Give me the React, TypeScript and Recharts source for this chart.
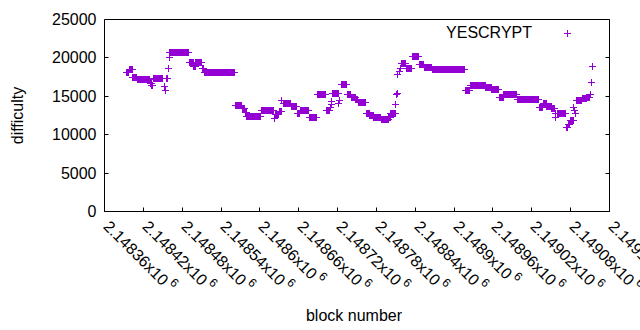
import { ScatterChart, Scatter, XAxis, YAxis, Legend, Label } from "recharts";

const FONT = '"Liberation Sans", Arial, sans-serif';
const PURPLE = '#9400d3';

// block ranges (first/last block of each run) and the difficulty of that run
const runFirst = [
  2148394, 2148399, 2148404, 2148411, 2148431, 2148433, 2148436, 2148452, 2148454, 2148456,
  2148459, 2148460, 2148461, 2148491, 2148498, 2148501, 2148511, 2148514, 2148562, 2148573,
  2148578, 2148580, 2148602, 2148623, 2148624, 2148630, 2148634, 2148636, 2148649, 2148658,
  2148662, 2148676, 2148689, 2148703, 2148709, 2148710, 2148711, 2148712, 2148722, 2148723,
  2148726, 2148735, 2148741, 2148748, 2148752, 2148765, 2148770, 2148776, 2148788, 2148799,
  2148802, 2148810, 2148811, 2148812, 2148813, 2148815, 2148817, 2148819, 2148826, 2148835,
  2148846, 2148854, 2148866, 2148918, 2148925, 2148949, 2148958, 2148970, 2148977, 2148998,
  2149032, 2149038, 2149043, 2149051, 2149056, 2149057, 2149060, 2149074, 2149077, 2149079,
  2149085, 2149086, 2149087, 2149089, 2149098, 2149105, 2149110, 2149112, 2149114,
];
const runLast = [
  2148397, 2148403, 2148410, 2148430, 2148432, 2148434, 2148449, 2148452, 2148454, 2148457,
  2148459, 2148460, 2148490, 2148497, 2148500, 2148510, 2148513, 2148561, 2148572, 2148576,
  2148579, 2148601, 2148621, 2148623, 2148628, 2148633, 2148634, 2148648, 2148657, 2148661,
  2148675, 2148688, 2148702, 2148708, 2148709, 2148710, 2148711, 2148721, 2148722, 2148723,
  2148734, 2148740, 2148747, 2148751, 2148763, 2148769, 2148775, 2148787, 2148798, 2148801,
  2148809, 2148810, 2148811, 2148812, 2148813, 2148815, 2148817, 2148825, 2148834, 2148845,
  2148853, 2148865, 2148916, 2148924, 2148948, 2148957, 2148968, 2148976, 2148997, 2149031,
  2149037, 2149042, 2149050, 2149055, 2149056, 2149057, 2149072, 2149075, 2149078, 2149084,
  2149085, 2149086, 2149087, 2149097, 2149104, 2149109, 2149111, 2149112, 2149114,
];
const runDifficulty = [
  18120, 18550, 17480, 17150, 16700, 16400, 17320, 16280, 15750, 17280,
  18580, 20090, 20660, 19440, 18900, 19360, 18680, 18160, 13760, 13400,
  12890, 12330, 13110, 12100, 12630, 12970, 14450, 14020, 13630, 12760,
  13110, 12280, 15170, 13150, 13600, 13930, 14300, 15300, 14020, 14450,
  16490, 15250, 14800, 14580, 14160, 12800, 12450, 12200, 11940, 12250,
  12780, 13930, 15230, 15400, 17840, 18200, 18620, 19270, 18580, 20220,
  19140, 18710, 18450, 15710, 16380, 16180, 15920, 14800, 15200, 14540,
  13580, 14020, 13670, 13370, 12800, 12300, 12720, 10940, 11300, 11850,
  13580, 13150, 12800, 14410, 14710, 14880, 15280, 16760, 18880,
];

const xTicks = [
  2148360, 2148420, 2148480, 2148540, 2148600, 2148660, 2148720,
  2148780, 2148840, 2148900, 2148960, 2149020, 2149080, 2149140,
];
const xTickLabels = [
  '2.14836', '2.14842', '2.14848', '2.14854', '2.1486', '2.14866', '2.14872',
  '2.14878', '2.14884', '2.1489', '2.14896', '2.14902', '2.14908', '2.14914',
];
const yTicks = [0, 5000, 10000, 15000, 20000, 25000];

// one point per block
const data: { block: number; difficulty: number }[] = [];
runFirst.forEach((first, i) => {
  for (let b = first; b <= runLast[i]; b++) data.push({ block: b, difficulty: runDifficulty[i] });
});

const snap = (v: number) => Math.round(v - 0.5) + 0.5;

function PlusMark(props: any) {
  const { cx, cy } = props;
  if (cx == null || cy == null) return null;
  const x = snap(cx);
  const y = snap(cy);
  return (
    <path
      d={`M${x - 3.5},${y}H${x + 3.5}M${x},${y - 3.5}V${y + 3.5}`}
      stroke={PURPLE}
      strokeWidth={1}
      fill="none"
    />
  );
}

function XTick(props: any) {
  const { x, y, payload } = props;
  const i = xTicks.indexOf(payload.value);
  const tx = snap(x);
  const ax = tx + 2;
  const ay = y + 12;
  return (
    <g>
      <line x1={tx} x2={tx} y1={y} y2={y - 4} stroke="#000" />
      <text
        x={ax}
        y={ay}
        transform={`rotate(45 ${ax} ${ay})`}
        fontFamily={FONT}
        fontSize={16}
        fill="#000"
        dominantBaseline="central"
      >
        {xTickLabels[i]}x10
        <tspan dx={3} dy={-6} fontSize={12}>6</tspan>
      </text>
    </g>
  );
}

function TopTick(props: any) {
  const { x, y } = props;
  const tx = snap(x);
  return <line x1={tx} x2={tx} y1={y} y2={y + 4} stroke="#000" />;
}

function YTick(props: any) {
  const { x, y, payload } = props;
  const ty = snap(y);
  return (
    <g>
      <line x1={x} x2={x + 4} y1={ty} y2={ty} stroke="#000" />
      <text
        x={x - 8}
        y={ty}
        textAnchor="end"
        dominantBaseline="central"
        fontFamily={FONT}
        fontSize={16}
        fill="#000"
      >
        {payload.value}
      </text>
    </g>
  );
}

function RightTick(props: any) {
  const { x, y } = props;
  const ty = snap(y);
  return <line x1={x} x2={x - 4} y1={ty} y2={ty} stroke="#000" />;
}

function YTitle(p: any) {
  const vb = p.viewBox || { x: 103.5, y: 19.5, width: 1, height: 192 };
  const cx = vb.x + vb.width - 87.5;
  const cy = vb.y + vb.height / 2;
  return (
    <text
      x={cx}
      y={cy}
      transform={`rotate(-90 ${cx} ${cy})`}
      textAnchor="middle"
      dominantBaseline="central"
      fontFamily={FONT}
      fontSize={16}
      fill="#000"
    >
      difficulty
    </text>
  );
}

function XTitle(p: any) {
  const vb = p.viewBox || { x: 104.5, y: 211.5, width: 505, height: 1 };
  return (
    <text
      x={vb.x + vb.width / 2 - 3}
      y={vb.y + 104}
      textAnchor="middle"
      dominantBaseline="central"
      fontFamily={FONT}
      fontSize={16}
      fill="#000"
    >
      block number
    </text>
  );
}

function renderLegend(props: any) {
  const item = (props.payload && props.payload[0]) || { value: 'YESCRYPT', color: PURPLE };
  return (
    <div style={{ display: 'flex', alignItems: 'center', height: 20 }}>
      <span
        style={{
          width: 92,
          textAlign: 'right',
          fontFamily: FONT,
          fontSize: 16,
          color: '#000',
          lineHeight: '20px',
        }}
      >
        {item.value}
      </span>
      <svg width={44} height={20} style={{ display: 'block' }}>
        <path d="M32,10.5H39M35.5,7V14" stroke={item.color || PURPLE} strokeWidth={1} fill="none" />
      </svg>
    </div>
  );
}

export default function App() {
  return (
    <div style={{ position: 'absolute', left: 0, top: 0, width: 640, height: 330, background: '#fff' }}>
      <ScatterChart
        width={640}
        height={330}
        margin={{ top: 18.5, right: 29.5, bottom: 117.5, left: 103.5 }}
      >
        <XAxis
          dataKey="block"
          type="number"
          domain={[2148360, 2149140]}
          ticks={xTicks}
          interval={0}
          allowDataOverflow
          height={1}
          tickSize={0}
          tickMargin={0}
          tickLine={false}
          axisLine={{ stroke: '#000' }}
          tick={<XTick />}
        >
          <Label content={<XTitle />} />
        </XAxis>
        <XAxis
          xAxisId="top"
          orientation="top"
          type="number"
          domain={[2148360, 2149140]}
          ticks={xTicks}
          interval={0}
          allowDataOverflow
          height={1}
          tickSize={0}
          tickMargin={0}
          tickLine={false}
          axisLine={{ stroke: '#000' }}
          tick={<TopTick />}
        />
        <YAxis
          dataKey="difficulty"
          type="number"
          domain={[0, 25000]}
          ticks={yTicks}
          interval={0}
          allowDataOverflow
          width={1}
          tickSize={0}
          tickMargin={0}
          tickLine={false}
          axisLine={{ stroke: '#000' }}
          tick={<YTick />}
        >
          <Label content={<YTitle />} />
        </YAxis>
        <YAxis
          yAxisId="right"
          orientation="right"
          type="number"
          domain={[0, 25000]}
          ticks={yTicks}
          interval={0}
          allowDataOverflow
          width={1}
          tickSize={0}
          tickMargin={0}
          tickLine={false}
          axisLine={{ stroke: '#000' }}
          tick={<RightTick />}
        />
        <Legend
          layout="vertical"
          align="center"
          verticalAlign="middle"
          wrapperStyle={{ left: 440, top: 23, width: 140 }}
          content={renderLegend}
        />
        <Scatter
          name="YESCRYPT"
          data={data}
          fill={PURPLE}
          shape={<PlusMark />}
          isAnimationActive={false}
        />
      </ScatterChart>
    </div>
  );
}
